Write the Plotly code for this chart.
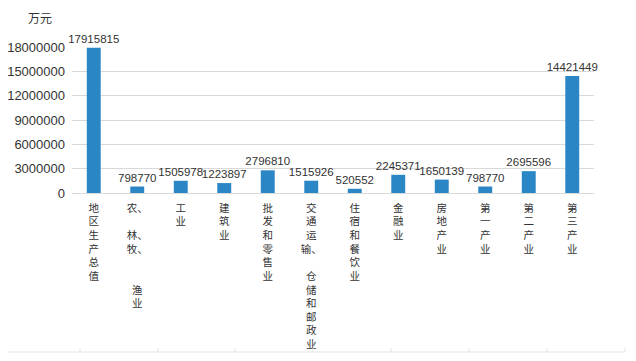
import plotly.graph_objects as go

categories = ["地区生产总值", "农、林、牧、渔业", "工业", "建筑业", "批发和零售业",
              "交通运输、仓储和邮政业", "住宿和餐饮业", "金融业", "房地产业",
              "第一产业", "第二产业", "第三产业"]
tick_text = ["地<br>区<br>生<br>产<br>总<br>值",
             "农、<br><br>林、<br>牧、<br><br><br>渔<br>业",
             "工<br>业",
             "建<br>筑<br>业",
             "批<br>发<br>和<br>零<br>售<br>业",
             "交<br>通<br>运<br>输、<br><br>仓<br>储<br>和<br>邮<br>政<br>业",
             "住<br>宿<br>和<br>餐<br>饮<br>业",
             "金<br>融<br>业",
             "房<br>地<br>产<br>业",
             "第<br>一<br>产<br>业",
             "第<br>二<br>产<br>业",
             "第<br>三<br>产<br>业"]
values = [17915815, 798770, 1505978, 1223897, 2796810, 1515926, 520552,
          2245371, 1650139, 798770, 2695596, 14421449]
y_ticks = [0, 3000000, 6000000, 9000000, 12000000, 15000000, 18000000]

# page has an 8px body margin; figure coordinates = page coordinates - 8
OFF = 8
W, H = 636 - OFF, 361 - OFF
ml, mr, mt, mb = 72 - OFF, 636 - 594, 47 - OFF, 361 - 193
pw, ph = W - ml - mr, H - mt - mb

fig = go.Figure(go.Bar(
    x=categories, y=values,
    marker=dict(color="#2a86c5", line=dict(width=0)),
    text=[str(v) for v in values], textposition="outside",
    constraintext="none",
    textfont=dict(size=11.5, color="#333333", family="Liberation Sans"),
    cliponaxis=False,
))

fig.update_layout(
    width=W, height=H,
    margin=dict(l=ml, r=mr, t=mt, b=mb, autoexpand=False),
    paper_bgcolor="white", plot_bgcolor="white",
    bargap=0.68, showlegend=False,
    font=dict(family="Noto Sans CJK SC, Liberation Sans", color="#333333"),
    xaxis=dict(tickmode="array", tickvals=categories, ticktext=tick_text,
               tickangle=0, showgrid=False, showline=True, linecolor="#d9d9d9",
               linewidth=1, ticks="", automargin=False, ticklabelstandoff=5,
               tickfont=dict(size=10.5, color="#333333", family="Noto Sans CJK SC")),
    yaxis=dict(range=[0, 18000000], tickmode="array", tickvals=y_ticks,
               ticktext=[str(v) for v in y_ticks], showgrid=True,
               gridcolor="#d9d9d9", gridwidth=1, zeroline=False, showline=False,
               ticks="", ticklabelstandoff=6, automargin=False,
               tickfont=dict(size=13, color="#333333", family="Liberation Sans")),
)

def px_x(x):
    return (x - OFF - ml) / pw

def px_y(y):
    return (H - mb - (y - OFF)) / ph

fig.add_annotation(text="万元", xref="paper", yref="paper",
                   x=px_x(27), y=px_y(8), xanchor="left", yanchor="top",
                   showarrow=False, borderpad=0,
                   font=dict(size=12, color="#333333", family="Noto Sans CJK SC"))

# faint table border seen at the bottom of the picture
shapes = [dict(type="line", xref="paper", yref="paper",
               x0=px_x(8), x1=px_x(625), y0=px_y(352), y1=px_y(352),
               line=dict(color="#e3e3e3", width=1))]
for tx in [80, 158, 235, 313, 391, 469, 547, 625]:
    shapes.append(dict(type="line", xref="paper", yref="paper",
                       x0=px_x(tx), x1=px_x(tx), y0=px_y(352), y1=px_y(348),
                       line=dict(color="#e3e3e3", width=1)))
fig.update_layout(shapes=shapes)

fig.write_html("out.html")
